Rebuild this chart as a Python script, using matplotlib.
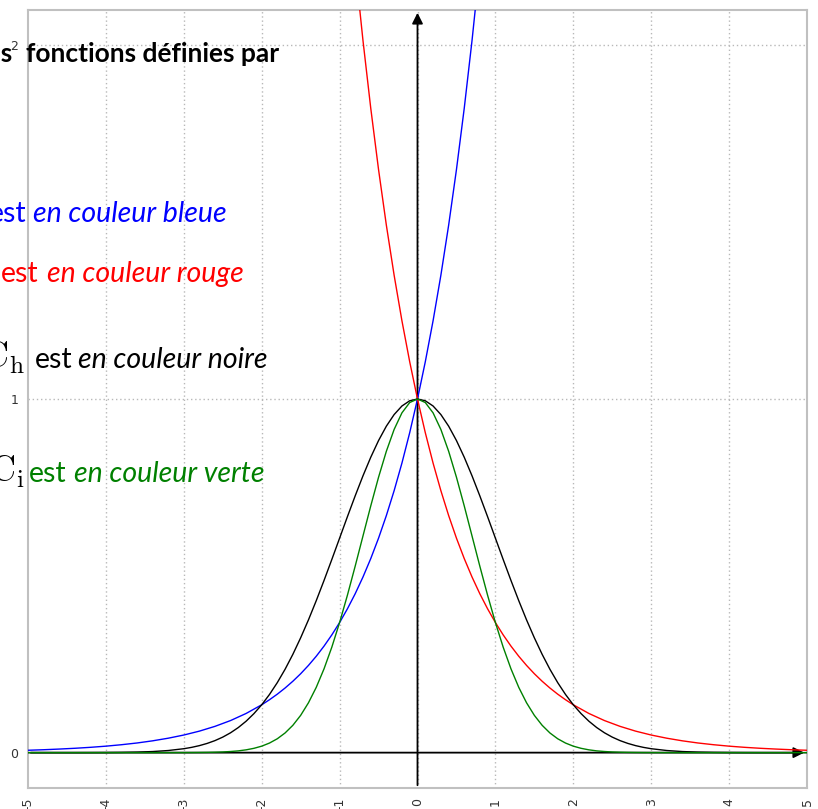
import numpy as np
import matplotlib
matplotlib.use("Agg")
import matplotlib.pyplot as plt

plt.rcParams['mathtext.fontset'] = 'cm'

# valeurs
x_left = [-5.0, -4.8, -4.6, -4.4, -4.2, -4.0, -3.8, -3.6, -3.4, -3.2, -3.0,
          -2.8, -2.6, -2.4, -2.2, -2.0, -1.9, -1.8, -1.7, -1.6, -1.5, -1.4,
          -1.3, -1.2, -1.1, -1.0, -0.9, -0.8, -0.7, -0.6, -0.5, -0.4, -0.3,
          -0.2, -0.1, 0.0, 0.1, 0.2, 0.3, 0.4, 0.5, 0.6, 0.7, 0.8]
y_bleu = [0.0067, 0.0082, 0.0101, 0.0123, 0.0150, 0.0183, 0.0224, 0.0273,
          0.0334, 0.0408, 0.0498, 0.0608, 0.0743, 0.0907, 0.1108, 0.1353,
          0.1496, 0.1653, 0.1827, 0.2019, 0.2231, 0.2466, 0.2725, 0.3012,
          0.3329, 0.3679, 0.4066, 0.4493, 0.4966, 0.5488, 0.6065, 0.6703,
          0.7408, 0.8187, 0.9048, 1.0, 1.1052, 1.2214, 1.3499, 1.4918,
          1.6487, 1.8221, 2.0138, 2.2255]

x_right = [-0.8, -0.7, -0.6, -0.5, -0.4, -0.3, -0.2, -0.1, 0.0, 0.1, 0.2,
           0.3, 0.4, 0.5, 0.6, 0.7, 0.8, 0.9, 1.0, 1.1, 1.2, 1.3, 1.4, 1.5,
           1.6, 1.7, 1.8, 1.9, 2.0, 2.2, 2.4, 2.6, 2.8, 3.0, 3.2, 3.4, 3.6,
           3.8, 4.0, 4.2, 4.4, 4.6, 4.8, 5.0]
y_rouge = [2.2255, 2.0138, 1.8221, 1.6487, 1.4918, 1.3499, 1.2214, 1.1052,
           1.0, 0.9048, 0.8187, 0.7408, 0.6703, 0.6065, 0.5488, 0.4966,
           0.4493, 0.4066, 0.3679, 0.3329, 0.3012, 0.2725, 0.2466, 0.2231,
           0.2019, 0.1827, 0.1653, 0.1496, 0.1353, 0.1108, 0.0907, 0.0743,
           0.0608, 0.0498, 0.0408, 0.0334, 0.0273, 0.0224, 0.0183, 0.0150,
           0.0123, 0.0101, 0.0082, 0.0067]

# courbes symetriques : demi-courbe pour x >= 0
x_demi = [0.0, 0.1, 0.2, 0.3, 0.4, 0.5, 0.6, 0.7, 0.8, 0.9, 1.0, 1.1, 1.2,
          1.3, 1.4, 1.5, 1.6, 1.7, 1.8, 1.9, 2.0, 2.1, 2.2, 2.3, 2.4, 2.5,
          2.6, 2.7, 2.8, 2.9, 3.0, 3.2, 3.4, 3.6, 3.8, 4.0, 4.2, 4.4, 4.6,
          4.8, 5.0]
y_noir = [1.0, 0.9950, 0.9802, 0.9560, 0.9231, 0.8825, 0.8353, 0.7827,
          0.7261, 0.6670, 0.6065, 0.5461, 0.4868, 0.4296, 0.3753, 0.3247,
          0.2780, 0.2357, 0.1979, 0.1645, 0.1353, 0.1103, 0.0889, 0.0710,
          0.0561, 0.0439, 0.0340, 0.0261, 0.0198, 0.0149, 0.0111, 0.0060,
          0.0031, 0.0015, 0.0007, 0.0003, 0.0001, 0.0, 0.0, 0.0, 0.0]
y_vert = [1.0, 0.9900, 0.9608, 0.9139, 0.8521, 0.7788, 0.6977, 0.6126,
          0.5273, 0.4449, 0.3679, 0.2982, 0.2369, 0.1845, 0.1409, 0.1054,
          0.0773, 0.0556, 0.0392, 0.0271, 0.0183, 0.0122, 0.0079, 0.0050,
          0.0032, 0.0019, 0.0012, 0.0007, 0.0004, 0.0002, 0.0001, 0.0,
          0.0, 0.0, 0.0, 0.0, 0.0, 0.0, 0.0, 0.0, 0.0]

x_ticks = [-5, -4, -3, -2, -1, 0, 1, 2, 3, 4, 5]
y_ticks = [0, 1, 2]

W, H = 818, 809
fig = plt.figure(figsize=(W / 100, H / 100), dpi=100)
ax = fig.add_axes([28 / W, 1 - 788 / H, (807 - 28) / W, (788 - 10) / H])
ax.set_xlim(-5, 5)
ax.set_ylim(-0.1, 2.1)

def sym(xs, ys):
    xs = np.asarray(xs)
    ys = np.asarray(ys)
    return np.concatenate([-xs[:0:-1], xs]), np.concatenate([ys[:0:-1], ys])

# grille pointillee
for xv in x_ticks[1:-1]:
    ax.axvline(xv, color='#b8b8b8', lw=1, ls=(0, (1, 2)), zorder=0)
for yv in y_ticks[1:]:
    ax.axhline(yv, color='#b8b8b8', lw=1, ls=(0, (1, 2)), zorder=0)

# axes avec fleches
ax.annotate('', xy=(0, 2.1), xytext=(0, -0.1),
            arrowprops=dict(arrowstyle='-|>', color='black', lw=1.3, mutation_scale=16),
            annotation_clip=False, zorder=2)
ax.annotate('', xy=(5, 0), xytext=(-5, 0),
            arrowprops=dict(arrowstyle='-|>', color='black', lw=1.3, mutation_scale=16),
            annotation_clip=False, zorder=2)

xn, yn = sym(x_demi, y_noir)
xg, yg = sym(x_demi, y_vert)
ax.plot(x_left, y_bleu, color='#0000ff', lw=1.0, zorder=3)
ax.plot(x_right, y_rouge, color='#ff0000', lw=1.0, zorder=3)
ax.plot(xn, yn, color='black', lw=1.0, zorder=3)
ax.plot(xg, yg, color='#008000', lw=1.0, zorder=3)

ax.set_xticks(x_ticks)
ax.set_xticklabels([str(v) for v in x_ticks], rotation=90, fontsize=9)
ax.set_yticks(y_ticks)
ax.set_yticklabels([str(v) for v in y_ticks], fontsize=9)
ax.tick_params(length=0, pad=7, labelcolor='#333333')
for s in ax.spines.values():
    s.set_color('#c0c0c0')
    s.set_linewidth(1.5)

def px(x, y):
    return x / W, 1 - y / H

txt_font = 'Lato'
fs_b = 19
fs = 20.5
fig.text(*px(13, 62), 'Les', ha='right', va='baseline', fontsize=fs_b,
         fontweight='bold', family=txt_font)
fig.text(*px(26, 62), 'fonctions définies par', ha='left', va='baseline',
         fontsize=fs_b, fontweight='bold', family=txt_font)

lignes = [
    (222, 26, 33, '#0000ff', 'bleue', None),
    (282, 38, 47, '#ff0000', 'rouge', None),
    (368, 72, 78, 'black', 'noire', r'$\mathrm{C}_\mathrm{h}$'),
    (482, 67, 74, '#008000', 'verte', r'$\mathrm{C}_\mathrm{i}$'),
]
for yb, x_est, x_en, col, nom, courbe in lignes:
    fig.text(*px(x_est, yb), 'est', ha='right', va='baseline', fontsize=fs,
             color=col, family=txt_font)
    fig.text(*px(x_en, yb), 'en couleur ' + nom, ha='left', va='baseline',
             fontsize=fs, style='italic', color=col, family=txt_font)
    if courbe:
        fig.text(*px(25, yb), courbe, ha='right', va='baseline', fontsize=26,
                 color='black')

fig.savefig('out.png', dpi=100)
